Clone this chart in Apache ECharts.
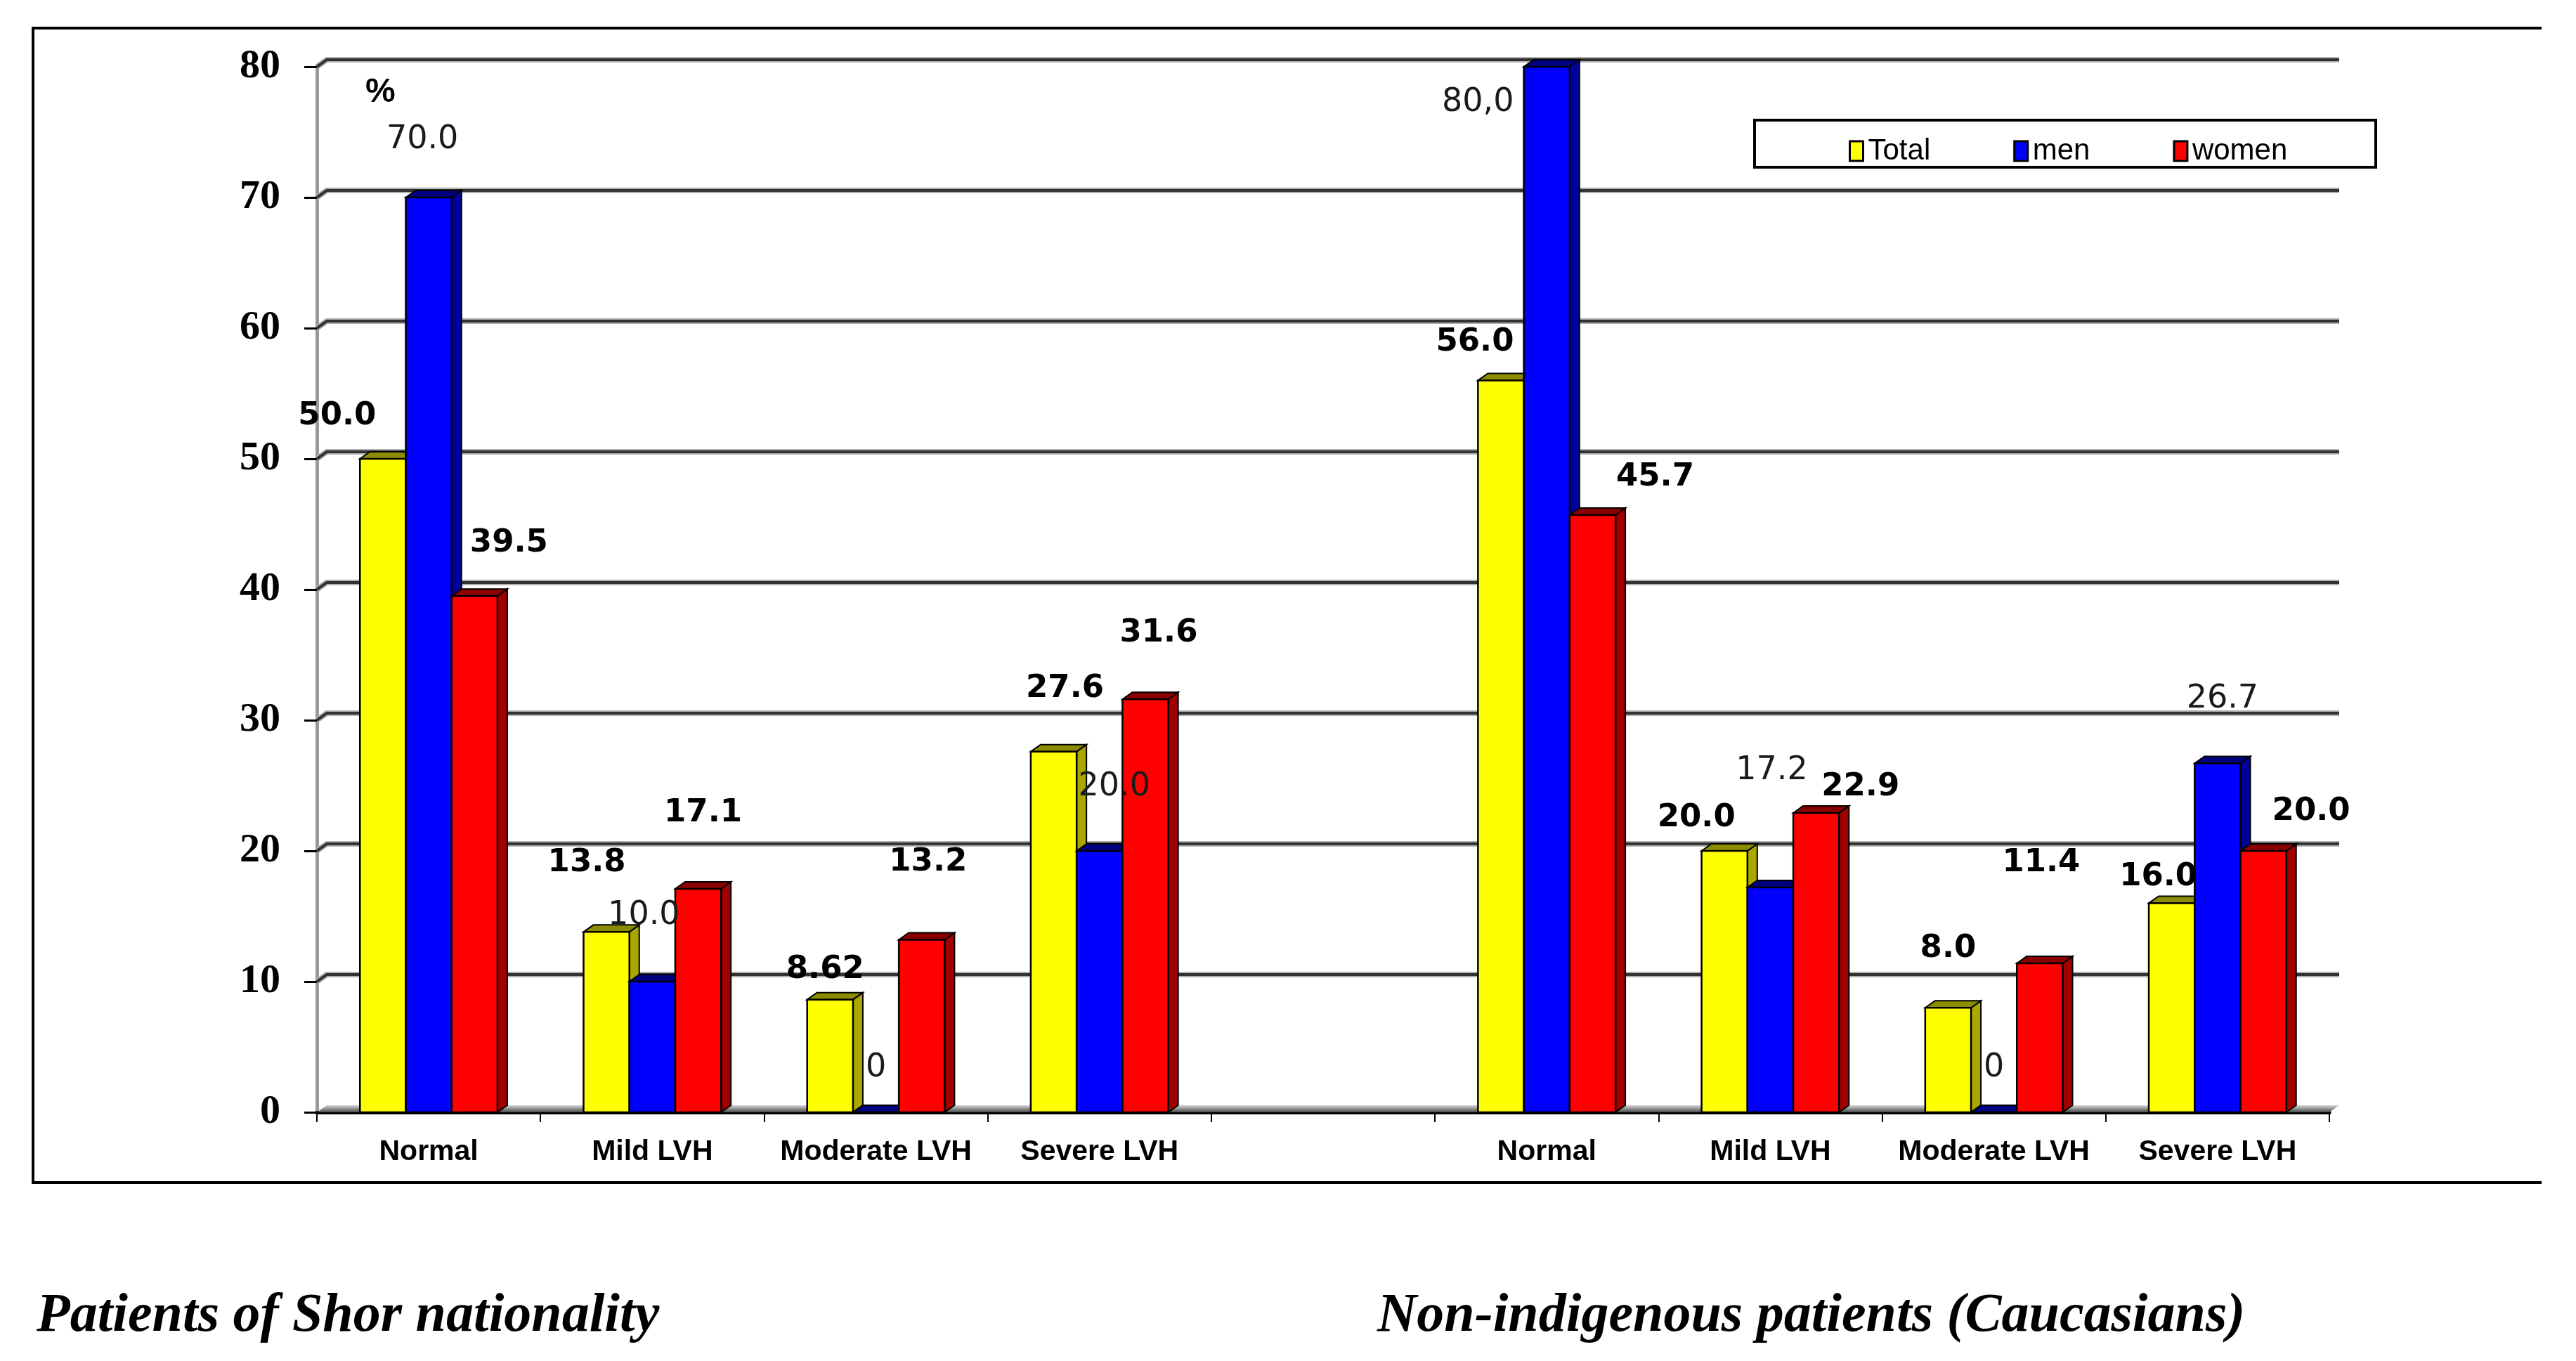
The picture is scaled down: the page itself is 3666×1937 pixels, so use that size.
<!DOCTYPE html>
<html><head><meta charset="utf-8">
<script src="https://cdn.jsdelivr.net/npm/echarts@6/dist/echarts.min.js"></script>
<style>html,body{margin:0;padding:0;background:#fff}#c{width:3666px;height:1937px}</style>
</head><body><div id="c"></div>
<script>
// ---------------- data ----------------
const categories = ['Normal', 'Mild LVH', 'Moderate LVH', 'Severe LVH', '', 'Normal', 'Mild LVH', 'Moderate LVH', 'Severe LVH'];
const seriesNames = ['Total', 'men', 'women'];
const shorTotal = [50.0, 13.8, 8.62, 27.6];
const shorMen = [70.0, 10.0, 0, 20.0];
const shorWomen = [39.5, 17.1, 13.2, 31.6];
const cauTotal = [56.0, 20.0, 8.0, 16.0];
const cauMen = [80.0, 17.2, 0, 26.7];
const cauWomen = [45.7, 22.9, 11.4, 20.0];
const shorTotalText = ['50.0', '13.8', '8.62', '27.6'];
const shorMenText = ['70.0', '10.0', '0', '20.0'];
const shorWomenText = ['39.5', '17.1', '13.2', '31.6'];
const cauTotalText = ['56.0', '20.0', '8.0', '16.0'];
const cauMenText = ['80,0', '17.2', '0', '26.7'];
const cauWomenText = ['45.7', '22.9', '11.4', '20.0'];
const yTicks = [0, 10, 20, 30, 40, 50, 60, 70, 80];
const captions = ['Patients of Shor nationality', 'Non-indigenous patients (Caucasians)'];
const unitLabel = '%';

// ---------------- style ----------------
const CAU_OFFSET = 5;
const BAR_FRAC = 0.205;
const DX = 14, DY = 10;
const SANS = "'Liberation Sans', Arial, sans-serif";
const WIDE = "'DejaVu Sans', Verdana, sans-serif";
const SERIF = "'Liberation Serif', 'Times New Roman', serif";
const STY = [
  { front: '#FFFF00', side: '#A8A800', top: '#8C8C00', weight: 'bold', size: 45, color: '#000' },
  { front: '#0000FF', side: '#00009C', top: '#000080', weight: 'normal', size: 46, color: '#1a1a1a' },
  { front: '#FF0000', side: '#A00000', top: '#8A0000', weight: 'bold', size: 45, color: '#000' }
];
// label nudges (px, relative to the centre of the bar top)
const labelNudge = [
  [[-65, -61], [-28, -98], [-7, -42], [16, -89], [-37, -54], [-40, -47], [0, -84], [-19, -37]],
  [[-9, -82], [-12, -94], [0, -63], [21, -91], [-98, 51], [2, -166], [0, -63], [7, -91]],
  [[49, -75], [7, -108], [9, -110], [19, -94], [89, -54], [63, -37], [2, -143], [68, -56]]
];

const groups = [[shorTotal, cauTotal], [shorMen, cauMen], [shorWomen, cauWomen]];
const texts = [[shorTotalText, cauTotalText], [shorMenText, cauMenText], [shorWomenText, cauWomenText]];

function buildData(si) {
  const a = groups[si][0].map((v, i) => [i, v]);
  const b = groups[si][1].map((v, i) => [i + CAU_OFFSET, v]);
  return a.concat(b);
}
function buildText(si) { return texts[si][0].concat(texts[si][1]); }

function barRenderer(si) {
  const labels = buildText(si);
  return function (params, api) {
    const ci = api.value(0), v = api.value(1);
    const p0 = api.coord([ci, 0]);
    const p1 = api.coord([ci, v]);
    const catW = api.size([1, 0])[0];
    const bw = catW * BAR_FRAC;
    const cx = p0[0] + (si - 1) * bw;
    const x0 = cx - bw / 2, x1 = cx + bw / 2, y0 = p0[1], y1 = p1[1];
    const st = STY[si];
    const n = labelNudge[si][params.dataIndex];
    const base = si * 10;
    return {
      type: 'group',
      children: [
        { type: 'polygon', z2: base + 1, shape: { points: [[x1, y1], [x1 + DX, y1 - DY], [x1 + DX, y0 - DY], [x1, y0]] }, style: { fill: st.side, stroke: '#000', lineWidth: 2 } },
        { type: 'polygon', z2: base + 2, shape: { points: [[x0, y1], [x0 + DX, y1 - DY], [x1 + DX, y1 - DY], [x1, y1]] }, style: { fill: st.top, stroke: '#000', lineWidth: 2 } },
        { type: 'rect', z2: base + 3, shape: { x: x0, y: y1, width: bw, height: y0 - y1 }, style: { fill: st.front, stroke: '#000', lineWidth: 2.5 } },
        { type: 'text', z2: 200, style: { text: labels[params.dataIndex], x: cx + n[0], y: y1 + n[1], fill: st.color, fontSize: st.size, fontWeight: st.weight, fontFamily: WIDE, align: 'center', verticalAlign: 'middle' } }
      ]
    };
  };
}

function wallRenderer(params, api) {
  const cs = params.coordSys;
  const v = api.value(1);
  const p = api.coord([0, v]);
  const xl = cs.x, xr = cs.x + cs.width, y = p[1];
  if (v === 0) {
    return {
      type: 'group', children: [
        { type: 'polygon', z2: -5, shape: { points: [[xl, y], [xr, y], [xr + DX, y - DY], [xl + DX, y - DY]] },
          style: { fill: { type: 'linear', x: 0, y: 0, x2: 0, y2: 1, colorStops: [{ offset: 0, color: '#d8d8d8' }, { offset: 1, color: '#4a4a4a' }] } } }
      ]
    };
  }
  return {
    type: 'group', children: [
      { type: 'polyline', z2: -10, shape: { points: [[xl, y], [xl + DX, y - DY], [xr + DX, y - DY]] }, style: { stroke: '#b0b0b0', lineWidth: 8, fill: null } },
      { type: 'polyline', z2: -9, shape: { points: [[xl, y], [xl + DX, y - DY], [xr + DX, y - DY]] }, style: { stroke: '#333333', lineWidth: 4, fill: null } }
    ]
  };
}

const series = [{
  name: 'wall', type: 'custom', renderItem: wallRenderer, data: yTicks.map(v => [0, v]), silent: true, z: 1
}];
seriesNames.forEach((name, si) => {
  series.push({ name, type: 'custom', renderItem: barRenderer(si), data: buildData(si), itemStyle: { color: STY[si].front }, z: 2, encode: { x: 0, y: 1 } });
});

const chart = echarts.init(document.getElementById('c'));
chart.setOption({
  animation: false,
  backgroundColor: '#fff',
  color: STY.map(s => s.front),
  title: [
    { text: captions[0], left: 47, top: 1830, textStyle: { fontFamily: SERIF, fontStyle: 'italic', fontWeight: 'bold', fontSize: 78, color: '#000' } },
    { text: captions[1], left: 1955, top: 1830, textStyle: { fontFamily: SERIF, fontStyle: 'italic', fontWeight: 'bold', fontSize: 78, color: '#000' } }
  ],
  legend: {
    data: seriesNames, left: 2626, top: 189, itemWidth: 19, itemHeight: 28, itemGap: 118, icon: 'rect',
    itemStyle: { borderColor: '#000', borderWidth: 3 },
    textStyle: { fontFamily: SANS, fontSize: 42, color: '#000', padding: [0, 0, 0, 2] },
    selectedMode: false
  },
  grid: { left: 451, right: 351, top: 95, bottom: 354, containLabel: false },
  xAxis: {
    type: 'category', data: categories,
    axisLine: { lineStyle: { color: '#000', width: 5 } },
    axisTick: { show: true, length: 14, lineStyle: { color: '#000', width: 2 } },
    axisLabel: { interval: 0, margin: 36, fontFamily: SANS, fontWeight: 'bold', fontSize: 41, color: '#000' },
    splitLine: { show: false }
  },
  yAxis: {
    type: 'value', min: 0, max: 80, interval: 10,
    axisLine: { show: true, lineStyle: { color: '#999', width: 5 } },
    axisTick: { show: true, length: 18, lineStyle: { color: '#000', width: 3 } },
    axisLabel: { margin: 52, fontFamily: SERIF, fontWeight: 'bold', fontSize: 58, color: '#000' },
    splitLine: { show: false }
  },
  graphic: [
    { type: 'polyline', shape: { points: [[3617, 40], [47, 40], [47, 1683], [3617, 1683]] }, style: { stroke: '#000', lineWidth: 4, fill: null } },
    { type: 'rect', shape: { x: 2497, y: 171, width: 884, height: 67 }, style: { fill: 'rgba(0,0,0,0)', stroke: '#000', lineWidth: 4 } },
    { type: 'text', left: 520, top: 108, style: { text: unitLabel, fontFamily: SANS, fontWeight: 'bold', fontSize: 48, fill: '#000' } }
  ],
  series
});
</script></body></html>
